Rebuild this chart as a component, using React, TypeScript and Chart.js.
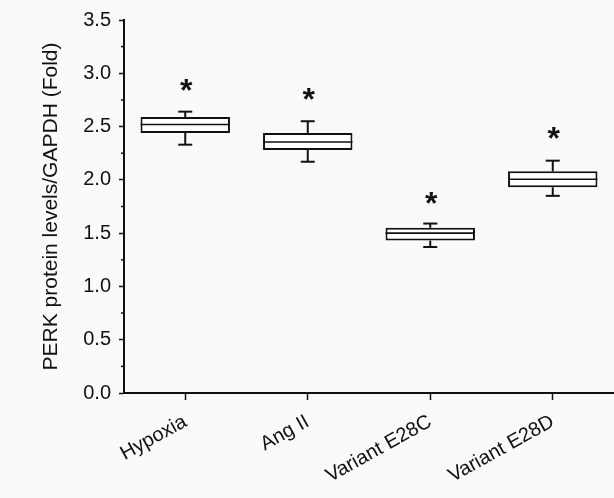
import React, { useEffect, useRef } from "react";
import { Chart, registerables } from "chart.js";

Chart.register(...registerables);

const categories = ["Hypoxia", "Ang II", "Variant E28C", "Variant E28D"];
const whiskerMin = [2.33, 2.17, 1.37, 1.85];
const quartile1 = [2.44, 2.28, 1.43, 1.93];
const medians = [2.52, 2.355, 1.5, 2.005];
const quartile3 = [2.59, 2.44, 1.55, 2.08];
const whiskerMax = [2.64, 2.55, 1.59, 2.18];
const starLevels = [2.87, 2.78, 1.81, 2.42];
const starLabel = "*";
const yMinorTicks = [0.25, 0.75, 1.25, 1.75, 2.25, 2.75, 3.25];
const yMin = 0;
const yMax = 3.5;
const yStep = 0.5;
const yTitle = "PERK protein levels/GAPDH (Fold)";

const INK = "#111111";
const FONT = "'Liberation Sans', Arial, Helvetica, sans-serif";

const boxExtras = {
  id: "boxExtras",
  afterDatasetsDraw(chart: any) {
    const { ctx, scales, chartArea } = chart;
    const x = scales.x;
    const y = scales.y;
    const meta = chart.getDatasetMeta(0);
    const line = (x1: number, y1: number, x2: number, y2: number) => {
      ctx.beginPath();
      ctx.moveTo(x1, y1);
      ctx.lineTo(x2, y2);
      ctx.stroke();
    };
    ctx.save();
    ctx.strokeStyle = INK;
    ctx.lineCap = "butt";
    categories.forEach((_, i) => {
      const bar = meta.data[i];
      const cx = x.getPixelForValue(i);
      const half = bar.width / 2;
      const capHalf = 7;
      const pMed = y.getPixelForValue(medians[i]);
      const pQ1 = y.getPixelForValue(quartile1[i]);
      const pQ3 = y.getPixelForValue(quartile3[i]);
      const pMin = y.getPixelForValue(whiskerMin[i]);
      const pMax = y.getPixelForValue(whiskerMax[i]);
      ctx.lineWidth = 1.6;
      line(cx - half, pMed, cx + half, pMed);
      ctx.lineWidth = 2;
      line(cx, pQ3, cx, pMax);
      line(cx, pQ1, cx, pMin);
      line(cx - capHalf, pMax, cx + capHalf, pMax);
      line(cx - capHalf, pMin, cx + capHalf, pMin);
      ctx.fillStyle = INK;
      ctx.font = "bold 32px " + FONT;
      ctx.textAlign = "center";
      ctx.textBaseline = "alphabetic";
      ctx.fillText(starLabel, cx + 1, y.getPixelForValue(starLevels[i]) + 0.42 * 32);
    });
    ctx.lineWidth = 1.5;
    yMinorTicks.forEach((v) => {
      const py = y.getPixelForValue(v);
      line(chartArea.left - 3, py, chartArea.left, py);
    });
    ctx.restore();
  },
};

export default function App() {
  const ref = useRef<HTMLCanvasElement | null>(null);

  useEffect(() => {
    if (!ref.current) return;
    const chart = new Chart(ref.current, {
      type: "bar",
      data: {
        labels: categories,
        datasets: [
          {
            data: quartile1.map((q, i) => [q, quartile3[i]]) as any,
            backgroundColor: "#ffffff",
            borderColor: INK,
            borderWidth: 2,
            borderSkipped: false,
            barPercentage: 0.73,
            categoryPercentage: 1,
          },
        ],
      },
      options: {
        responsive: false,
        animation: false,
        layout: { padding: { left: 0, right: -4, top: 20, bottom: 0 } },
        plugins: {
          legend: { display: false },
          tooltip: { enabled: false },
        },
        scales: {
          x: {
            type: "category",
            offset: true,
            grid: {
              display: true,
              drawOnChartArea: false,
              drawTicks: true,
              tickLength: 7,
              offset: false,
              tickColor: INK,
              tickWidth: 1.5,
            },
            border: { display: true, color: INK, width: 2 },
            ticks: {
              color: INK,
              font: { family: FONT, size: 20 },
              maxRotation: 29,
              minRotation: 29,
              autoSkip: false,
              padding: 10,
            },
            afterFit: (scale: any) => {
              scale.height = 105;
            },
          },
          y: {
            min: yMin,
            max: yMax,
            grid: {
              display: true,
              drawOnChartArea: false,
              drawTicks: true,
              tickLength: 5,
              tickColor: INK,
              tickWidth: 1.5,
            },
            border: { display: true, color: INK, width: 2 },
            ticks: {
              stepSize: yStep,
              color: INK,
              font: { family: FONT, size: 20 },
              padding: 8,
              callback: (v: any) => Number(v).toFixed(1),
            },
            title: {
              display: true,
              text: yTitle,
              color: INK,
              font: { family: FONT, size: 21 },
              padding: { top: 39, bottom: 0 },
            },
            afterFit: (scale: any) => {
              scale.width = 124;
            },
          },
        },
      },
      plugins: [boxExtras],
    });
    return () => chart.destroy();
  }, []);

  return (
    <div
      style={{
        position: "fixed",
        left: 0,
        top: 0,
        width: 614,
        height: 498,
        background: "#fafafa",
      }}
    >
      <canvas
        ref={ref}
        width={614}
        height={498}
        style={{ display: "block", width: 614, height: 498 }}
      />
    </div>
  );
}
